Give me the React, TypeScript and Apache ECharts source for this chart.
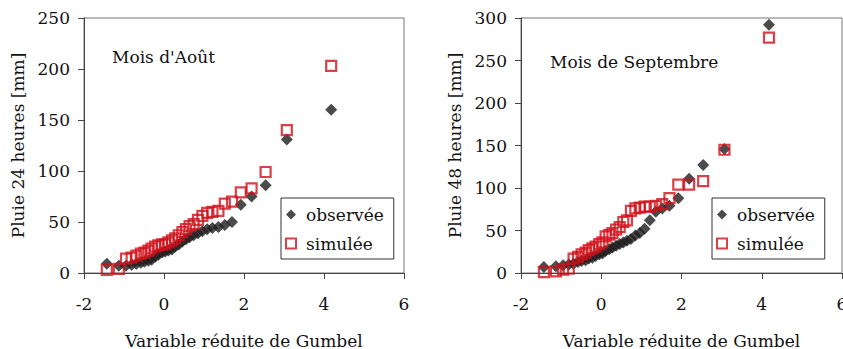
import React, { useEffect, useRef } from "react";
import * as echarts from "echarts";

// Gumbel reduced variate (x), shared by both panels
const gumbelX = [-1.43, -1.13, -0.95, -0.81, -0.69, -0.58, -0.49, -0.39, -0.31, -0.22, -0.14, -0.05, 0.03, 0.11, 0.2, 0.28, 0.37, 0.46, 0.55, 0.64, 0.74, 0.85, 0.96, 1.08, 1.21, 1.36, 1.52, 1.7, 1.92, 2.19, 2.54, 3.07, 4.18];

// August, 24-hour rainfall [mm]
const aoutObservee = [9, 7, 7, 8, 9, 10, 11, 12, 13, 16, 18, 20, 21, 22, 23, 26, 28, 31, 33, 35, 37, 39, 41, 43, 44, 45, 47, 50, 67, 75, 86, 131, 160];
const aoutSimulee = [3, 4, 14, 15, 17, 19, 20, 22, 24, 26, 27, 28, 28, 30, 32, 34, 37, 40, 43, 46, 48, 52, 56, 59, 60, 61, 68, 70, 79, 83, 99, 140, 203];

// September, 48-hour rainfall [mm]
const septObservee = [7, 8, 9, 10, 11, 13, 14, 15, 17, 18, 20, 22, 23, 26, 28, 30, 32, 34, 36, 38, 40, 44, 47, 52, 62, 72, 76, 79, 88, 111, 127, 146, 292];
const septSimulee = [1, 2, 4, 5, 17, 19, 22, 24, 27, 29, 31, 34, 36, 43, 45, 47, 51, 54, 60, 62, 73, 76, 77, 78, 78, 79, 81, 88, 104, 104, 108, 145, 277];

const xTicks = { min: -2, max: 6, interval: 2 };
const yTicksAout = { min: 0, max: 250, interval: 50 };
const yTicksSept = { min: 0, max: 300, interval: 50 };

const FONT = "DejaVu Serif";
const FS = 17;
const TXT = "#111";
const RED = "#d0101a";
const DARK = "#1e1e1e";

function pairs(xs: number[], ys: number[]) {
  return xs.map((x, i) => [x, ys[i]]);
}

export default function App() {
  const ref = useRef<HTMLDivElement>(null);
  useEffect(() => {
    if (!ref.current) return;
    const chart = echarts.init(ref.current, null, { renderer: "svg" });
    const xAxisBase = (gridIndex: number) => ({
      type: "value",
      gridIndex,
      min: xTicks.min,
      max: xTicks.max,
      interval: xTicks.interval,
      name: "Variable réduite de Gumbel",
      nameLocation: "middle",
      nameGap: 59,
      nameTextStyle: { fontFamily: FONT, fontSize: FS, color: TXT },
      axisLine: { show: true, onZero: false, lineStyle: { color: "#444", width: 1 } },
      axisTick: { show: true, length: 6, lineStyle: { color: "#444" } },
      axisLabel: { fontFamily: FONT, fontSize: FS, color: TXT, margin: 22 },
      splitLine: { show: false },
    });
    const yAxisBase = (gridIndex: number, t: any, name: string) => ({
      type: "value",
      gridIndex,
      min: t.min,
      max: t.max,
      interval: t.interval,
      name,
      nameLocation: "middle",
      nameGap: 58,
      nameTextStyle: { fontFamily: FONT, fontSize: FS, color: TXT },
      axisLine: { show: true, onZero: false, lineStyle: { color: "#444", width: 1 } },
      axisTick: { show: true, length: 6, lineStyle: { color: "#444" } },
      axisLabel: { fontFamily: FONT, fontSize: FS, color: TXT, margin: 14 },
      splitLine: { show: false },
    });
    const obsStyle = { color: DARK };
    const simStyle = { color: "rgba(0,0,0,0)", borderColor: RED, borderWidth: 2.2 };
    const legendBase = (left: number) => ({
      left,
      top: 198,
      orient: "vertical",
      data: ["observée", "simulée"],
      itemWidth: 10,
      itemHeight: 10,
      itemGap: 12,
      padding: [8, 10, 7, 4],
      borderColor: "#333",
      borderWidth: 1,
      selectedMode: false,
      textStyle: { fontFamily: FONT, fontSize: FS, color: TXT, padding: [0, 0, 0, 5] },
    });
    chart.setOption({
      animation: false,
      backgroundColor: "#fff",
      title: [
        { text: "Mois d'Août", left: 112, top: 48, padding: 0, textStyle: { fontFamily: FONT, fontSize: FS, fontWeight: "normal", color: TXT } },
        { text: "Mois de Septembre", left: 550, top: 53, padding: 0, textStyle: { fontFamily: FONT, fontSize: FS, fontWeight: "normal", color: TXT } },
      ],
      legend: [legendBase(281), legendBase(712)],
      grid: [
        { left: 84, top: 18, width: 320, height: 255, show: true, borderColor: "#777", borderWidth: 1, containLabel: false, outerBoundsMode: "none" },
        { left: 521, top: 18, width: 321, height: 255, show: true, borderColor: "#777", borderWidth: 1, containLabel: false, outerBoundsMode: "none" },
      ],
      xAxis: [xAxisBase(0), xAxisBase(1)],
      yAxis: [
        yAxisBase(0, yTicksAout, "Pluie 24 heures [mm]"),
        yAxisBase(1, yTicksSept, "Pluie 48 heures [mm]"),
      ],
      series: [
        { name: "observée", type: "scatter", xAxisIndex: 0, yAxisIndex: 0, symbol: "diamond", symbolSize: 12, itemStyle: obsStyle, data: pairs(gumbelX, aoutObservee) },
        { name: "simulée", type: "scatter", xAxisIndex: 0, yAxisIndex: 0, symbol: "rect", symbolSize: 10, itemStyle: simStyle, data: pairs(gumbelX, aoutSimulee) },
        { name: "observée", type: "scatter", xAxisIndex: 1, yAxisIndex: 1, symbol: "diamond", symbolSize: 12, itemStyle: obsStyle, data: pairs(gumbelX, septObservee) },
        { name: "simulée", type: "scatter", xAxisIndex: 1, yAxisIndex: 1, symbol: "rect", symbolSize: 10, itemStyle: simStyle, data: pairs(gumbelX, septSimulee) },
      ],
    });
    return () => chart.dispose();
  }, []);
  return (
    <div
      ref={ref}
      style={{ position: "fixed", left: 0, top: 0, width: 843, height: 349, background: "#fff" }}
    />
  );
}
